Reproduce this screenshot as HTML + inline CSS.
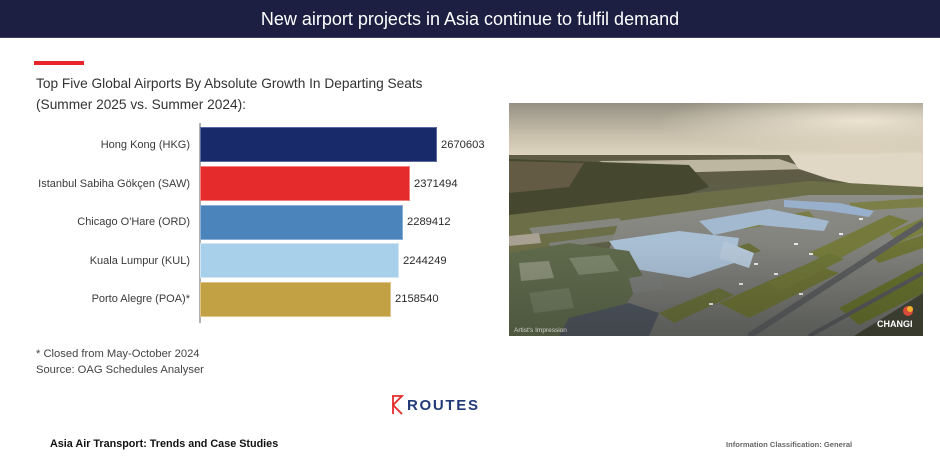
<!DOCTYPE html>
<html><head><meta charset="utf-8"><style>
html,body{margin:0;padding:0;background:#fff;}
body{width:940px;height:467px;position:relative;overflow:hidden;font-family:"Liberation Sans",Arial,sans-serif;}
.hdr{position:absolute;left:0;top:0;width:940px;height:37px;background:#1c1f42;border-bottom:1px solid #3a3d5e;}
.hdr span{position:absolute;left:0;width:940px;top:9px;text-align:center;color:#fff;font-size:18px;line-height:20px;}
.red{position:absolute;left:34px;top:61px;width:50px;height:4px;background:#e8252a;}
.sub{position:absolute;left:36px;color:#333;font-size:13.7px;line-height:16px;white-space:nowrap;}
.lab{position:absolute;right:750px;color:#3a3a3a;font-size:11px;line-height:14px;white-space:nowrap;text-align:right;}
.val{position:absolute;left:441px;color:#2a2a2a;font-size:11.2px;line-height:14px;}
.bar{position:absolute;left:200px;height:35px;box-sizing:border-box;}
.axis{position:absolute;left:199px;top:123px;width:1.5px;height:200px;background:#b0b0b0;}
.note{position:absolute;left:36px;color:#444;font-size:11.2px;line-height:14px;white-space:nowrap;}
.foot{position:absolute;left:50px;top:437px;font-size:10.8px;font-weight:bold;color:#111;line-height:14px;white-space:nowrap;}
.info{position:absolute;left:726px;top:440px;font-size:7.6px;font-weight:bold;color:#666;line-height:10px;white-space:nowrap;}
.routes{position:absolute;left:407px;top:397px;font-size:15px;letter-spacing:1.7px;color:#233a78;line-height:18px;font-weight:bold;}
</style></head><body>
<div class="hdr"><span>New airport projects in Asia continue to fulfil demand</span></div>
<div class="red"></div>
<div class="sub" style="top:76px;">Top Five Global Airports By Absolute Growth In Departing Seats</div>
<div class="sub" style="top:97px;">(Summer 2025 vs. Summer 2024):</div>

<div class="axis"></div>
<div class="bar" style="top:127px;width:237px;background:#182a6a;border:1px solid #5a6aa0;"></div>
<div class="bar" style="top:166px;width:210px;background:#e52b2b;border:1px solid #f08080;"></div>
<div class="bar" style="top:204.5px;width:203px;background:#4a84bb;border:1px solid #8ab0d8;"></div>
<div class="bar" style="top:243px;width:199px;background:#a8d0ea;border:1px solid #d0e6f4;"></div>
<div class="bar" style="top:281.5px;width:191px;background:#c2a044;border:1px solid #dcc48a;"></div>

<div class="lab" style="top:138px;">Hong Kong (HKG)</div>
<div class="lab" style="top:177px;">Istanbul Sabiha Gökçen (SAW)</div>
<div class="lab" style="top:215px;">Chicago O'Hare (ORD)</div>
<div class="lab" style="top:254px;">Kuala Lumpur (KUL)</div>
<div class="lab" style="top:292px;">Porto Alegre (POA)*</div>

<div class="val" style="top:138px;">2670603</div>
<div class="val" style="top:177px;left:414px;">2371494</div>
<div class="val" style="top:215px;left:407px;">2289412</div>
<div class="val" style="top:254px;left:403px;">2244249</div>
<div class="val" style="top:292px;left:395px;">2158540</div>

<div class="note" style="top:347px;">* Closed from May-October 2024</div>
<div class="note" style="top:363px;">Source: OAG Schedules Analyser</div>

<svg style="position:absolute;left:390px;top:394px;" width="14" height="21" viewBox="0 0 14 21">
<polyline points="2,2 12,2 3,11 12,20" fill="none" stroke="#e52b2b" stroke-width="1.8"/>
<line x1="3" y1="2" x2="3" y2="20" stroke="#e52b2b" stroke-width="1.8"/>
</svg>
<div class="routes">ROUTES</div>

<div class="foot">Asia Air Transport: Trends and Case Studies</div>
<div class="info">Information Classification: General</div>

<svg style="position:absolute;left:509px;top:103px;" width="414" height="233" viewBox="0 0 414 233">
<defs>
<linearGradient id="sky" x1="0" y1="0" x2="0" y2="1">
<stop offset="0" stop-color="#959083"/><stop offset="0.6" stop-color="#cbc2ae"/><stop offset="1" stop-color="#e2d8c2"/>
</linearGradient>
<radialGradient id="glow" cx="0.85" cy="0.3" r="0.5">
<stop offset="0" stop-color="#f3ead6" stop-opacity="0.9"/><stop offset="1" stop-color="#f3ead6" stop-opacity="0"/>
</radialGradient>
<linearGradient id="apr" x1="0" y1="0" x2="0" y2="1">
<stop offset="0" stop-color="#8e8e88"/><stop offset="1" stop-color="#6c6e6a"/>
</linearGradient>
<linearGradient id="shade" x1="0" y1="0" x2="0" y2="1">
<stop offset="0.6" stop-color="#000" stop-opacity="0"/><stop offset="1" stop-color="#000" stop-opacity="0.18"/>
</linearGradient>
</defs>
<rect width="414" height="233" fill="#5c5e48"/>
<rect width="414" height="56" fill="url(#sky)"/>
<rect y="52" width="414" height="30" fill="#5e5c44"/>
<polygon points="90,58 270,56 300,66 120,71" fill="#bdb6a0"/>
<polygon points="280,52 414,50 414,88 370,86 320,76 290,66" fill="#e0d8c4"/>
<polygon points="0,56 180,62 200,84 150,100 0,118" fill="#46472f"/>
<polygon points="0,58 75,60 60,84 0,90" fill="#6c604a" opacity="0.8"/>
<polygon points="0,112 150,94 300,78 414,84 414,112 110,138 0,150" fill="#6c6e48"/>
<polygon points="20,125 110,115 115,122 25,132" fill="#858680"/>
<polygon points="40,140 130,128 132,134 42,146" fill="#7e807a"/>
<polygon points="110,118 300,92 414,92 414,233 70,233" fill="url(#apr)"/>
<polygon points="210,200 300,160 330,170 240,215" fill="#6d7236"/>
<polygon points="300,150 380,112 400,118 322,160" fill="#757a3c"/>
<polygon points="330,205 414,160 414,190 350,222" fill="#66702e"/>
<polygon points="260,180 320,150 335,156 272,188" fill="#6f7638"/>
<polygon points="170,162 240,140 252,148 182,170" fill="#6a6e3a"/>
<polygon points="380,130 414,115 414,130 390,140" fill="#7a803e"/>
<polygon points="230,120 300,108 305,114 236,126" fill="#7a7e46"/>
<polygon points="340,100 414,95 414,104 345,108" fill="#7c8048"/>
<polygon points="150,210 210,185 225,192 165,220" fill="#69703a"/>
<polygon points="360,150 414,132 414,145 370,160" fill="#6e7436"/>
<line x1="240" y1="233" x2="414" y2="120" stroke="#5a5c5e" stroke-width="6"/>
<line x1="300" y1="233" x2="414" y2="170" stroke="#56585a" stroke-width="4"/>
<polygon points="345,233 414,190 414,233" fill="#434636"/>
<polygon points="100,138 170,128 230,135 225,160 180,175 120,165" fill="#a9bfd4"/>
<polygon points="190,118 260,106 320,118 315,128 250,122 205,132" fill="#a3b9d0"/>
<polygon points="275,97 330,100 365,108 360,114 320,108 275,104" fill="#98b0cc"/>
<polygon points="215,138 245,150 240,165 210,155" fill="#b4c7d8"/>
<g fill="#e8e8e8">
<rect x="245" y="160" width="4" height="2"/><rect x="265" y="170" width="4" height="2"/><rect x="285" y="140" width="4" height="2"/>
<rect x="300" y="150" width="4" height="2"/><rect x="230" y="180" width="4" height="2"/><rect x="330" y="130" width="4" height="2"/>
<rect x="350" y="115" width="4" height="2"/><rect x="200" y="200" width="4" height="2"/><rect x="290" y="190" width="4" height="2"/>
</g>
<polygon points="0,150 60,140 120,148 135,175 95,233 0,233" fill="#5f6a4c"/>
<polygon points="10,160 40,158 45,175 12,178" fill="#8a9078"/>
<polygon points="60,155 100,152 110,168 70,172" fill="#7a866a"/>
<polygon points="20,190 60,185 65,205 25,210" fill="#6f7a5e"/>
<polygon points="0,133 30,130 32,140 0,143" fill="#a8a090"/>
<polygon points="60,215 120,200 150,210 140,233 50,233" fill="#4f565e"/>
<polygon points="120,175 150,170 155,186 124,190" fill="#7a7c7a"/>
<rect width="414" height="60" fill="url(#glow)"/>
<rect width="414" height="233" fill="url(#shade)"/>
<text x="5" y="229" font-family="Liberation Sans, sans-serif" font-size="6.5" fill="#e6e6e6" opacity="0.85">Artist's Impression</text>
<circle cx="399" cy="208" r="5" fill="#d84a3a"/>
<circle cx="401" cy="206" r="3" fill="#f0b030"/>
<text x="368" y="224" font-family="Liberation Sans, sans-serif" font-size="9" font-weight="bold" fill="#ffffff">CHANGI</text>
</svg>
</body></html>
